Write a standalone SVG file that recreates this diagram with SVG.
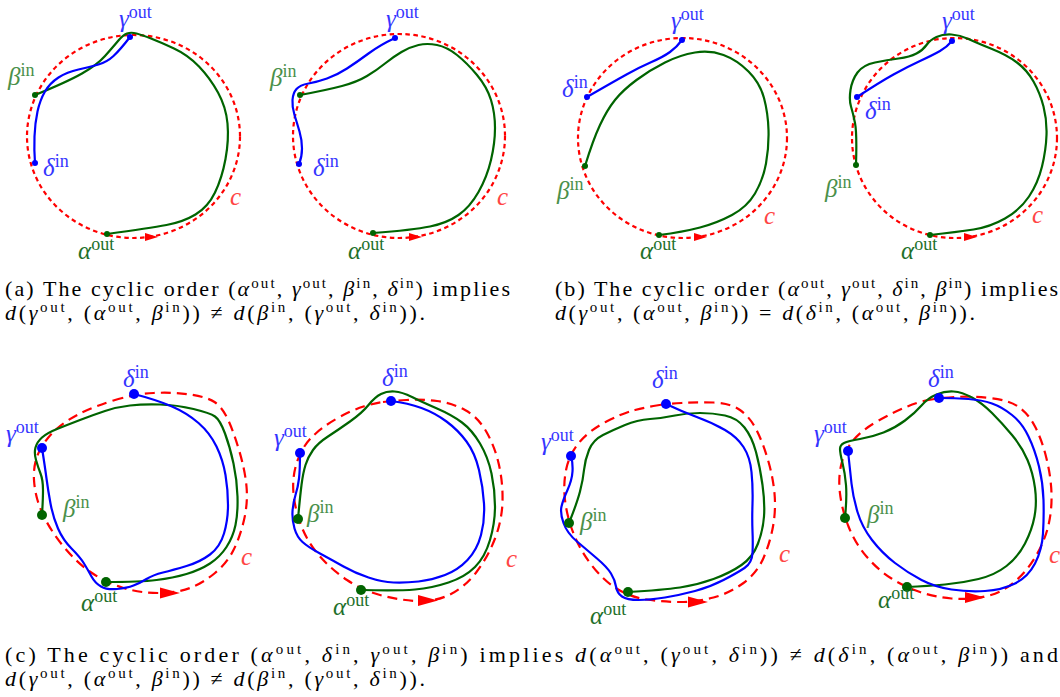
<svg xmlns="http://www.w3.org/2000/svg" width="1060" height="697" viewBox="0 0 1060 697">
<style>
.bg{fill:#fff}
.rt{fill:none;stroke:#ff0000;stroke-width:2.2;stroke-dasharray:4.5 3.5}
.rb{fill:none;stroke:#ff0000;stroke-width:2.2;stroke-dasharray:10 6}
.gr{fill:none;stroke:#006400;stroke-width:2.2;stroke-linecap:round;stroke-linejoin:round}
.bl{fill:none;stroke:#0000ff;stroke-width:2.2;stroke-linecap:round;stroke-linejoin:round}
.ar{fill:#ff0000}
.dg{fill:#006400}
.db{fill:#0000ff}
.lb{font-family:"Liberation Serif","DejaVu Serif","Noto Serif",serif;font-size:25px;font-style:italic}
.lb .s{font-style:normal;font-size:18px}
.lbb{fill:#3535ff}
.lbg{fill:#4a904a}
.lba{fill:#22702a}
.lbc{fill:#ff4545}
.cap{font-family:"Liberation Serif","DejaVu Serif","Noto Serif",serif;font-size:22px;fill:#000}
.cap .m{font-style:italic}
.cap .s{font-size:15px}
</style>
<rect class="bg" x="0" y="0" width="1060" height="697"/>

<g id="panel-a1">
<ellipse class="rt" cx="133.5" cy="136.5" rx="106.5" ry="101.5"/>
<path class="ar" d="M145,233 L158,237 L145,241 Z"/>
<path class="gr" d="M35,95 Q67,82 82,73.5 Q97,65 105,56 Q113,47 118,41 Q123,35 127,33.5 Q131,32 136.5,33.5 Q142,35 151,38.5 Q160,42 174,48.5 Q188,55 199,66.5 Q210,78 218,92.5 Q226,107 227.5,123.5 Q229,140 225.5,159 Q222,178 215,192.5 Q208,207 195.5,214.5 Q183,222 166.5,225 Q150,228 107,234"/>
<path class="bl" d="M130,37 Q120,50 113.5,56 Q107,62 98.5,64.5 Q90,67 78.5,69.5 Q67,72 58.5,77.5 Q50,83 45,91.5 Q40,100 37.5,111.5 Q35,123 34.5,136.5 Q34,150 35,163"/>
<circle class="db" cx="130" cy="37" r="3"/><circle class="dg" cx="35" cy="95" r="3"/><circle class="db" cx="35" cy="163" r="3"/><circle class="dg" cx="107" cy="234" r="3"/>
<text class="lb lbb" x="119" y="27">γ<tspan class="s" dy="-9">out</tspan></text>
<text class="lb lbg" x="8" y="85">β<tspan class="s" dy="-9">in</tspan></text>
<text class="lb lbb" x="43" y="176">δ<tspan class="s" dy="-9">in</tspan></text>
<text class="lb lba" x="78" y="259">α<tspan class="s" dy="-9">out</tspan></text>
<text class="lb lbc" x="230" y="205">c</text>
</g>

<g id="panel-a2">
<ellipse class="rt" cx="399" cy="136" rx="106" ry="102"/>
<path class="ar" d="M409,233 L422,237 L409,241 Z"/>
<path class="gr" d="M300,95 Q327,90 342,86 Q357,82 367,76 Q377,70 385,63.5 Q393,57 401.5,52 Q410,47 418.5,45 Q427,43 437,45 Q447,47 457,55 Q467,63 477,75 Q487,87 491,100 Q495,113 495,128 Q495,143 491,160 Q487,177 478.5,192 Q470,207 458.5,215 Q447,223 430,226.5 Q413,230 373,233"/>
<path class="bl" d="M395,38 Q380,45 368.5,53.5 Q357,62 347,68.5 Q337,75 327,78.5 Q317,82 308.5,83.5 Q300,85 296.5,89 Q293,93 292.5,100 Q292,107 294.5,115 Q297,123 299.5,131.5 Q302,140 302,148.5 Q302,157 299,164"/>
<circle class="db" cx="395" cy="38" r="3"/><circle class="dg" cx="300" cy="95" r="3"/><circle class="db" cx="299" cy="164" r="3"/><circle class="dg" cx="373" cy="233" r="3"/>
<text class="lb lbb" x="386" y="27">γ<tspan class="s" dy="-9">out</tspan></text>
<text class="lb lbg" x="270" y="86">β<tspan class="s" dy="-9">in</tspan></text>
<text class="lb lbb" x="313" y="176">δ<tspan class="s" dy="-9">in</tspan></text>
<text class="lb lba" x="348" y="259">α<tspan class="s" dy="-9">out</tspan></text>
<text class="lb lbc" x="497" y="205">c</text>
</g>

<g id="panel-b1">
<ellipse class="rt" cx="682.5" cy="138" rx="104.5" ry="100"/>
<path class="ar" d="M694,233 L707,237 L694,241 Z"/>
<path class="gr" d="M585,166 Q593,140 600,125 Q607,110 615,100 Q623,90 636.5,80 Q650,70 665,62.5 Q680,55 695,52.5 Q710,50 723.5,55 Q737,60 748.5,71.5 Q760,83 764,98 Q768,113 768.5,130 Q769,147 766,163.5 Q763,180 755,193.5 Q747,207 732,215 Q717,223 700,227.5 Q683,232 659,235"/>
<path class="bl" d="M682,40 Q677,47 670,52 Q663,57 651.5,62 Q640,67 626.5,74.5 Q613,82 587,97"/>
<circle class="db" cx="682" cy="40" r="3"/><circle class="db" cx="587" cy="97" r="3"/><circle class="dg" cx="585" cy="166" r="3"/><circle class="dg" cx="659" cy="235" r="3"/>
<text class="lb lbb" x="671" y="29">γ<tspan class="s" dy="-9">out</tspan></text>
<text class="lb lbb" x="562" y="97">δ<tspan class="s" dy="-9">in</tspan></text>
<text class="lb lbg" x="557" y="199">β<tspan class="s" dy="-9">in</tspan></text>
<text class="lb lba" x="640" y="259">α<tspan class="s" dy="-9">out</tspan></text>
<text class="lb lbc" x="764" y="224">c</text>
</g>

<g id="panel-b2">
<ellipse class="rt" cx="954.5" cy="138" rx="102.5" ry="100"/>
<path class="ar" d="M964,233 L977,237 L964,241 Z"/>
<path class="gr" d="M856,165 Q857,133 855,123 Q853,113 851,106.5 Q849,100 850.5,90 Q852,80 857.5,72.5 Q863,65 875,62.5 Q887,60 898.5,58.5 Q910,57 916.5,53.5 Q923,50 926.5,45 Q930,40 936.5,37 Q943,34 951.5,34.5 Q960,35 968.5,39 Q977,43 992,49 Q1007,55 1017,62.5 Q1027,70 1033.5,81.5 Q1040,93 1043.5,106.5 Q1047,120 1046.5,135 Q1046,150 1042,166.5 Q1038,183 1029,196.5 Q1020,210 1005,218.5 Q990,227 973.5,229.5 Q957,232 930,235"/>
<path class="bl" d="M952,41 Q947,47 940,51 Q933,55 920,61 Q907,67 893.5,74.5 Q880,82 857,97"/>
<circle class="db" cx="952" cy="41" r="3"/><circle class="db" cx="857" cy="97" r="3"/><circle class="dg" cx="856" cy="165" r="3"/><circle class="dg" cx="930" cy="235" r="3"/>
<text class="lb lbb" x="942" y="29">γ<tspan class="s" dy="-9">out</tspan></text>
<text class="lb lbb" x="865" y="119">δ<tspan class="s" dy="-9">in</tspan></text>
<text class="lb lbg" x="825" y="197">β<tspan class="s" dy="-9">in</tspan></text>
<text class="lb lba" x="901" y="259">α<tspan class="s" dy="-9">out</tspan></text>
<text class="lb lbc" x="1032" y="223">c</text>
</g>

<g id="panel-c1">
<path class="rb" d="M113.5,400.5 Q134,394 153.5,393 Q173,392 190,394.5 Q207,397 214.5,402 Q222,407 227.5,418.5 Q233,430 239,450 Q245,470 246.5,486.5 Q248,503 244,520 Q240,537 233.5,550 Q227,563 215,573 Q203,583 190,588 Q177,593 158.5,593 Q140,593 123.5,588 Q107,583 92,573 Q77,563 63.5,546.5 Q50,530 42.5,513.5 Q35,497 34,480 Q33,463 40,450 Q47,437 57,428.5 Q67,420 80,413.5 Q93,407 113.5,400.5 Z"/>
<path class="ar" d="M160,587.5 L180,593 L160,598.5 Z"/>
<path class="gr" d="M42,515 Q43,500 43,490 Q43,480 40.5,473.5 Q38,467 36,460 Q34,453 35.5,447.5 Q37,442 42,437.5 Q47,433 57,429 Q67,425 80,420 Q93,415 105,411 Q117,407 130,405.5 Q143,404 160,404.5 Q177,405 193.5,409 Q210,413 215,416.5 Q220,420 225,433.5 Q230,447 233.5,463.5 Q237,480 237.5,496.5 Q238,513 235.5,525 Q233,537 226.5,547 Q220,557 210,563.5 Q200,570 186.5,574 Q173,578 156.5,580 Q140,582 106,582"/>
<path class="bl" d="M134,394 Q157,400 172,406.5 Q187,413 198.5,423 Q210,433 216.5,446.5 Q223,460 225.5,475 Q228,490 228,505 Q228,520 224,533.5 Q220,547 210,554.5 Q200,562 186.5,566 Q173,570 163,572.5 Q153,575 146.5,579 Q140,583 133.5,585.5 Q127,588 117,589 Q107,590 101,586.5 Q95,583 91.5,576.5 Q88,570 84,563.5 Q80,557 71.5,548.5 Q63,540 58,528.5 Q53,517 50.5,503.5 Q48,490 46.5,478.5 Q45,467 42,448"/>
<circle class="db" cx="134" cy="394" r="5"/><circle class="db" cx="42" cy="448" r="5"/><circle class="dg" cx="42" cy="515" r="5"/><circle class="dg" cx="106" cy="582" r="5"/>
<text class="lb lbb" x="123" y="387">δ<tspan class="s" dy="-9">in</tspan></text>
<text class="lb lbb" x="6" y="442">γ<tspan class="s" dy="-9">out</tspan></text>
<text class="lb lbg" x="63" y="517">β<tspan class="s" dy="-9">in</tspan></text>
<text class="lb lba" x="81" y="611">α<tspan class="s" dy="-9">out</tspan></text>
<text class="lb lbc" x="241" y="565">c</text>
</g>

<g id="panel-c2">
<path class="rb" d="M383,402 Q391,401 406.5,400 Q422,399 437,401 Q452,403 465,410 Q478,417 486.5,432 Q495,447 499,465 Q503,483 502.5,501.5 Q502,520 495,538.5 Q488,557 476.5,572 Q465,587 450,594.5 Q435,602 416.5,601 Q398,600 380,595 Q362,590 347,580 Q332,570 320,556.5 Q308,543 301.5,526.5 Q295,510 293.5,493.5 Q292,477 297,462 Q302,447 312,437 Q322,427 337,418.5 Q352,410 363.5,406.5 Q375,403 383,402 Z"/>
<path class="ar" d="M418,595 L438,600.5 L418,606 Z"/>
<path class="gr" d="M298,519 Q300,497 301.5,485 Q303,473 305.5,465 Q308,457 313,450 Q318,443 328,436.5 Q338,430 350,421.5 Q362,413 368.5,405 Q375,397 381,394 Q387,391 394.5,391.5 Q402,392 412,397 Q422,402 437,408.5 Q452,415 462,422.5 Q472,430 480,443.5 Q488,457 491.5,473.5 Q495,490 495,506.5 Q495,523 490,540 Q485,557 475,567 Q465,577 448.5,582.5 Q432,588 415,589.5 Q398,591 361,590"/>
<path class="bl" d="M391,401 Q408,403 421.5,408 Q435,413 446.5,421.5 Q458,430 466.5,441.5 Q475,453 479,470 Q483,487 484,503.5 Q485,520 481,535 Q477,550 467.5,560 Q458,570 445,575 Q432,580 418.5,581.5 Q405,583 393.5,582.5 Q382,582 368.5,577.5 Q355,573 343.5,566.5 Q332,560 320,553.5 Q308,547 302.5,542 Q297,537 294.5,528.5 Q292,520 292.5,511.5 Q293,503 295.5,495 Q298,487 299,478.5 Q300,470 300,453"/>
<circle class="db" cx="391" cy="401" r="5"/><circle class="db" cx="300" cy="453" r="5"/><circle class="dg" cx="298" cy="519" r="5"/><circle class="dg" cx="361" cy="590" r="5"/>
<text class="lb lbb" x="382" y="386">δ<tspan class="s" dy="-9">in</tspan></text>
<text class="lb lbb" x="274" y="446">γ<tspan class="s" dy="-9">out</tspan></text>
<text class="lb lbg" x="307" y="522">β<tspan class="s" dy="-9">in</tspan></text>
<text class="lb lba" x="333" y="615">α<tspan class="s" dy="-9">out</tspan></text>
<text class="lb lbc" x="506" y="567">c</text>
</g>

<g id="panel-c3">
<path class="rb" d="M656.5,405.5 Q666,404 681.5,403 Q697,402 713.5,402.5 Q730,403 740,410 Q750,417 756.5,430 Q763,443 768,460 Q773,477 774.5,493.5 Q776,510 773,526.5 Q770,543 763.5,558 Q757,573 743.5,583 Q730,593 713.5,597.5 Q697,602 680,602 Q663,602 646.5,599.5 Q630,597 616.5,588.5 Q603,580 591.5,565 Q580,550 573.5,533.5 Q567,517 565,500 Q563,483 566.5,468 Q570,453 580,441.5 Q590,430 606.5,421.5 Q623,413 635,410 Q647,407 656.5,405.5 Z"/>
<path class="ar" d="M688,596.5 L708,602 L688,607.5 Z"/>
<path class="gr" d="M569,523 Q577,503 580,491.5 Q583,480 584,470 Q585,460 589,450 Q593,440 603,435 Q613,430 625,425 Q637,420 650,419 Q663,418 675,415.5 Q687,413 700,413 Q713,413 725,415.5 Q737,418 744.5,427.5 Q752,437 756,452 Q760,467 762.5,485 Q765,503 764,516.5 Q763,530 758,543.5 Q753,557 741.5,565 Q730,573 713.5,579 Q697,585 680,587.5 Q663,590 628,592"/>
<path class="bl" d="M666,404 Q683,412 698,417.5 Q713,423 725,430 Q737,437 743.5,447 Q750,457 751.5,472 Q753,487 752.5,503.5 Q752,520 752.5,531.5 Q753,543 752.5,553 Q752,563 744.5,568 Q737,573 723.5,580 Q710,587 695,591 Q680,595 665,597.5 Q650,600 638.5,600 Q627,600 622,596.5 Q617,593 616,586.5 Q615,580 611,573.5 Q607,567 597,558.5 Q587,550 577,541.5 Q567,533 563.5,523 Q560,513 561.5,506.5 Q563,500 567.5,490 Q572,480 572.5,471.5 Q573,463 571,456"/>
<circle class="db" cx="666" cy="404" r="5"/><circle class="db" cx="571" cy="456" r="5"/><circle class="dg" cx="569" cy="523" r="5"/><circle class="dg" cx="628" cy="592" r="5"/>
<text class="lb lbb" x="652" y="388">δ<tspan class="s" dy="-9">in</tspan></text>
<text class="lb lbb" x="541" y="450">γ<tspan class="s" dy="-9">out</tspan></text>
<text class="lb lbg" x="580" y="530">β<tspan class="s" dy="-9">in</tspan></text>
<text class="lb lba" x="590" y="624">α<tspan class="s" dy="-9">out</tspan></text>
<text class="lb lbc" x="779" y="562">c</text>
</g>

<g id="panel-c4">
<path class="rb" d="M928.5,400 Q939,398 955.5,397 Q972,396 990,398 Q1008,400 1018,406.5 Q1028,413 1035,426.5 Q1042,440 1046.5,458.5 Q1051,477 1051.5,493.5 Q1052,510 1048.5,525 Q1045,540 1036.5,555 Q1028,570 1015,581.5 Q1002,593 985,596.5 Q968,600 951.5,598.5 Q935,597 920,592 Q905,587 891.5,578.5 Q878,570 866.5,556.5 Q855,543 848.5,526.5 Q842,510 840,493.5 Q838,477 841.5,463.5 Q845,450 853.5,440 Q862,430 877,421.5 Q892,413 905,407.5 Q918,402 928.5,400 Z"/>
<path class="ar" d="M965,592 L985,597.5 L965,603 Z"/>
<path class="gr" d="M845,518 Q847,497 846,485 Q845,473 842.5,463 Q840,453 840,449 Q840,445 844,443 Q848,441 860,439 Q872,437 883.5,432.5 Q895,428 905,420.5 Q915,413 921.5,405.5 Q928,398 936.5,394.5 Q945,391 953.5,391.5 Q962,392 972,397.5 Q982,403 992,413 Q1002,423 1012,435 Q1022,447 1027.5,460 Q1033,473 1035,488 Q1037,503 1034.5,516.5 Q1032,530 1025,543.5 Q1018,557 1006.5,566 Q995,575 978.5,579 Q962,583 945,584.5 Q928,586 907,587"/>
<path class="bl" d="M939,398 Q955,398 968.5,399 Q982,400 992,403.5 Q1002,407 1012,415 Q1022,423 1028.5,436.5 Q1035,450 1039,466.5 Q1043,483 1043.5,500 Q1044,517 1043,533.5 Q1042,550 1035,563.5 Q1028,577 1015,583.5 Q1002,590 985,591 Q968,592 951.5,589.5 Q935,587 921.5,580 Q908,573 895,563 Q882,553 872,540 Q862,527 857.5,512 Q853,497 851.5,483.5 Q850,470 848,451"/>
<circle class="db" cx="939" cy="398" r="5"/><circle class="db" cx="848" cy="451" r="5"/><circle class="dg" cx="845" cy="518" r="5"/><circle class="dg" cx="907" cy="587" r="5"/>
<text class="lb lbb" x="928" y="387">δ<tspan class="s" dy="-9">in</tspan></text>
<text class="lb lbb" x="814" y="442">γ<tspan class="s" dy="-9">out</tspan></text>
<text class="lb lbg" x="867" y="523">β<tspan class="s" dy="-9">in</tspan></text>
<text class="lb lba" x="878" y="608">α<tspan class="s" dy="-9">out</tspan></text>
<text class="lb lbc" x="1049" y="563">c</text>
</g>

<g id="captions">
<text class="cap" x="5" y="296" textLength="505">(a) The cyclic order (<tspan class="m">α</tspan><tspan class="s" dy="-8">out</tspan><tspan dy="8">, </tspan><tspan class="m">γ</tspan><tspan class="s" dy="-8">out</tspan><tspan dy="8">, </tspan><tspan class="m">β</tspan><tspan class="s" dy="-8">in</tspan><tspan dy="8">, </tspan><tspan class="m">δ</tspan><tspan class="s" dy="-8">in</tspan><tspan dy="8">) implies</tspan></text>
<text class="cap" x="5" y="320" textLength="420"><tspan class="m">d</tspan>(<tspan class="m">γ</tspan><tspan class="s" dy="-8">out</tspan><tspan dy="8">, (</tspan><tspan class="m">α</tspan><tspan class="s" dy="-8">out</tspan><tspan dy="8">, </tspan><tspan class="m">β</tspan><tspan class="s" dy="-8">in</tspan><tspan dy="8">)) ≠ </tspan><tspan class="m">d</tspan>(<tspan class="m">β</tspan><tspan class="s" dy="-8">in</tspan><tspan dy="8">, (</tspan><tspan class="m">γ</tspan><tspan class="s" dy="-8">out</tspan><tspan dy="8">, </tspan><tspan class="m">δ</tspan><tspan class="s" dy="-8">in</tspan><tspan dy="8">)).</tspan></text>
<text class="cap" x="555" y="296" textLength="503">(b) The cyclic order (<tspan class="m">α</tspan><tspan class="s" dy="-8">out</tspan><tspan dy="8">, </tspan><tspan class="m">γ</tspan><tspan class="s" dy="-8">out</tspan><tspan dy="8">, </tspan><tspan class="m">δ</tspan><tspan class="s" dy="-8">in</tspan><tspan dy="8">, </tspan><tspan class="m">β</tspan><tspan class="s" dy="-8">in</tspan><tspan dy="8">) implies</tspan></text>
<text class="cap" x="555" y="320" textLength="420"><tspan class="m">d</tspan>(<tspan class="m">γ</tspan><tspan class="s" dy="-8">out</tspan><tspan dy="8">, (</tspan><tspan class="m">α</tspan><tspan class="s" dy="-8">out</tspan><tspan dy="8">, </tspan><tspan class="m">β</tspan><tspan class="s" dy="-8">in</tspan><tspan dy="8">)) = </tspan><tspan class="m">d</tspan>(<tspan class="m">δ</tspan><tspan class="s" dy="-8">in</tspan><tspan dy="8">, (</tspan><tspan class="m">α</tspan><tspan class="s" dy="-8">out</tspan><tspan dy="8">, </tspan><tspan class="m">β</tspan><tspan class="s" dy="-8">in</tspan><tspan dy="8">)).</tspan></text>
<text class="cap" x="5" y="662" textLength="1053">(c) The cyclic order (<tspan class="m">α</tspan><tspan class="s" dy="-8">out</tspan><tspan dy="8">, </tspan><tspan class="m">δ</tspan><tspan class="s" dy="-8">in</tspan><tspan dy="8">, </tspan><tspan class="m">γ</tspan><tspan class="s" dy="-8">out</tspan><tspan dy="8">, </tspan><tspan class="m">β</tspan><tspan class="s" dy="-8">in</tspan><tspan dy="8">) implies </tspan><tspan class="m">d</tspan>(<tspan class="m">α</tspan><tspan class="s" dy="-8">out</tspan><tspan dy="8">, (</tspan><tspan class="m">γ</tspan><tspan class="s" dy="-8">out</tspan><tspan dy="8">, </tspan><tspan class="m">δ</tspan><tspan class="s" dy="-8">in</tspan><tspan dy="8">)) ≠ </tspan><tspan class="m">d</tspan>(<tspan class="m">δ</tspan><tspan class="s" dy="-8">in</tspan><tspan dy="8">, (</tspan><tspan class="m">α</tspan><tspan class="s" dy="-8">out</tspan><tspan dy="8">, </tspan><tspan class="m">β</tspan><tspan class="s" dy="-8">in</tspan><tspan dy="8">)) and</tspan></text>
<text class="cap" x="5" y="686" textLength="420"><tspan class="m">d</tspan>(<tspan class="m">γ</tspan><tspan class="s" dy="-8">out</tspan><tspan dy="8">, (</tspan><tspan class="m">α</tspan><tspan class="s" dy="-8">out</tspan><tspan dy="8">, </tspan><tspan class="m">β</tspan><tspan class="s" dy="-8">in</tspan><tspan dy="8">)) ≠ </tspan><tspan class="m">d</tspan>(<tspan class="m">β</tspan><tspan class="s" dy="-8">in</tspan><tspan dy="8">, (</tspan><tspan class="m">γ</tspan><tspan class="s" dy="-8">out</tspan><tspan dy="8">, </tspan><tspan class="m">δ</tspan><tspan class="s" dy="-8">in</tspan><tspan dy="8">)).</tspan></text>
</g>
</svg>
